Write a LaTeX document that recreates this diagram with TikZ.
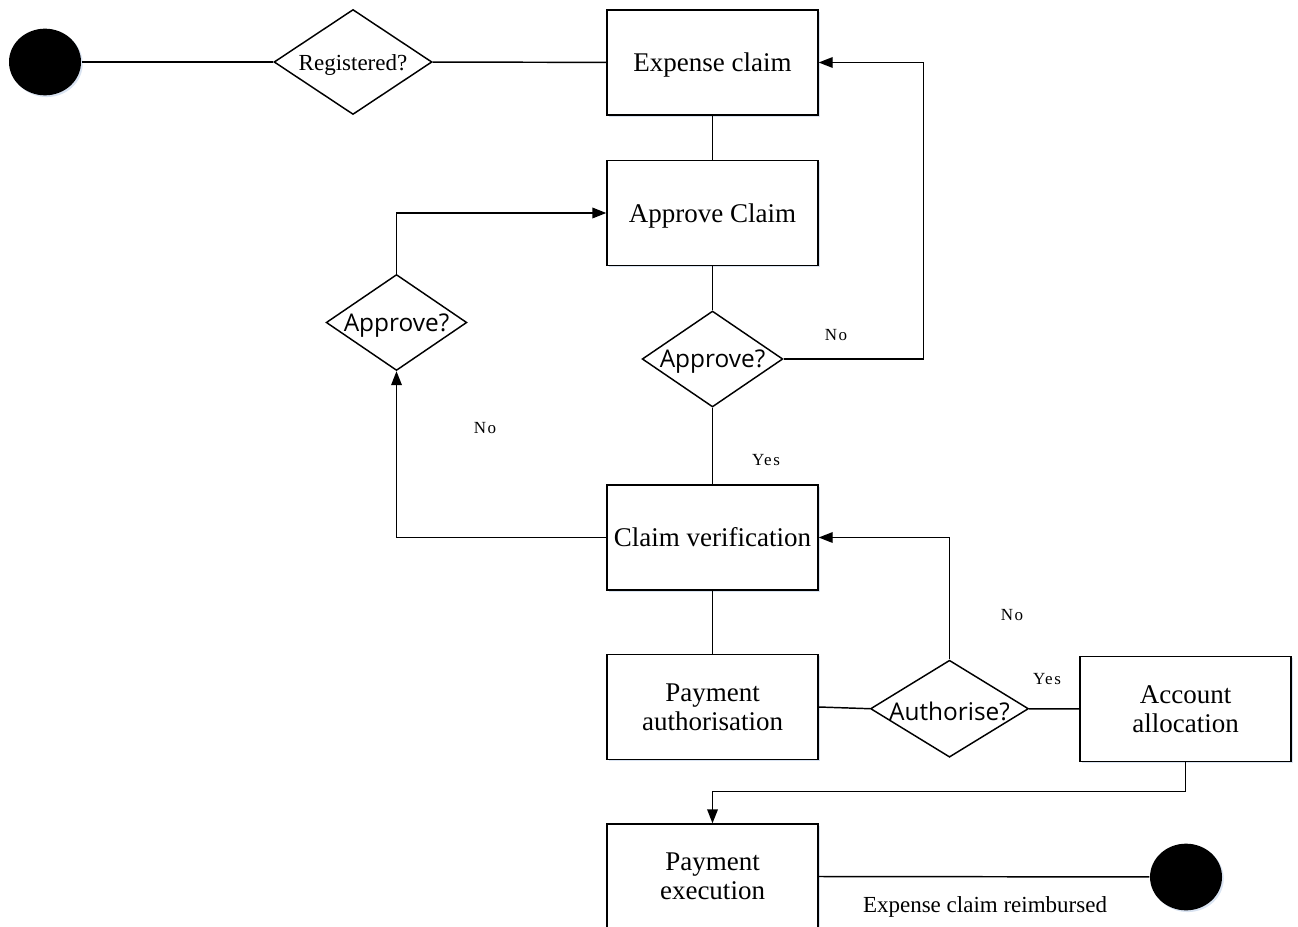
\documentclass[tikz,border=0pt]{standalone}
\usepackage{fontspec}
\setmainfont{Liberation Serif}
\newfontfamily\diafont{Open Sans}
\newfontfamily\lblfont{Liberation Serif}[LetterSpace=9]
\usetikzlibrary{shapes.geometric,arrows.meta,shadows}
\definecolor{glow}{RGB}{208,220,238}
% lower a one-line label a little without changing the box it reports
\newcommand{\nudge}[1]{\raisebox{-2.25pt}[\height][\depth]{#1}}
\begin{document}
\begin{tikzpicture}[x=0.75pt,y=-0.75pt,line width=1.1pt,
  box/.style={draw, fill=white, minimum width=158.25pt, minimum height=78.75pt,
    inner sep=2pt, align=center, font=\fontsize{20.25}{21.75}\selectfont,
    drop shadow={shadow xshift=1.3pt, shadow yshift=-1.3pt, fill=glow, opacity=0.8}},
  decision/.style={draw, fill=white, diamond, inner sep=0pt},
  serifq/.style={font=\fontsize{17.25}{20}\selectfont},
  sansq/.style={font=\diafont\fontsize{18.3}{20}\selectfont},
  term/.style={ellipse, fill=black, minimum width=54pt, minimum height=50pt, inner sep=0pt,
    drop shadow={shadow xshift=1.3pt, shadow yshift=-1.3pt, fill=glow, opacity=0.8}},
  lbl/.style={font=\lblfont\fontsize{12.75}{14}\selectfont},
  flow/.style={-{Triangle[length=10.5pt,width=8pt]}}
]
\useasboundingbox (0,0) rectangle (1298,927);

% states and decisions
\node[term] (start) at (45,62) {};
\node[decision, serifq, minimum width=118.5pt, minimum height=78.75pt] (reg) at (353,62) {\nudge{\makebox[0pt]{Registered?}}};
\node[box] (claim) at (712.5,62.5) {\nudge{Expense claim}};
\node[box] (approve) at (712.5,213) {\nudge{Approve Claim}};
\node[decision, sansq, minimum width=105.5pt, minimum height=72pt] (apr) at (712.5,359) {\nudge{\makebox[0pt]{Approve?}}};
\node[decision, sansq, minimum width=105.5pt, minimum height=72pt] (apl) at (396.5,322.5) {\nudge{\makebox[0pt]{Approve?}}};
\node[box] (verify) at (712.5,537.5) {Claim verification};
\node[box] (payauth) at (712.5,707) {Payment\\authorisation};
\node[decision, sansq, minimum width=118.5pt, minimum height=72.75pt] (auth) at (949.5,708.7) {\nudge{\makebox[0pt]{Authorise?}}};
\node[box] (alloc) at (1185.5,709) {Account\\allocation};
\node[box] (payexec) at (712.5,876.5) {Payment\\execution};
\node[term] (end) at (1186,877) {};

% connectors
\draw (start) -- (reg);
\draw (reg) -- (claim);
\draw (claim) -- (approve);
\draw (approve) -- (apr);
\draw[flow] (apr.east) -- ++(140,0) |- (claim.east);
\draw (apr) -- (verify);
\draw[flow] (verify.west) -| (apl.south);
\draw[flow] (apl.north) |- (approve.west);
\draw (verify) -- (payauth);
\draw (payauth.east) -- (auth.west);
\draw[flow] (auth.north) |- (verify.east);
\draw (auth) -- (alloc);
\draw[flow] (alloc.south) -- ++(0,29) -| (payexec.north);
\draw (payexec.east) -- (end);

% branch labels
\node[lbl] (lno1) at (836,335) {No};
\node[lbl] (lyes1) at (766,460) {Yes};
\node[lbl] (lno2) at (485,428) {No};
\node[lbl] (lno3) at (1012,615) {No};
\node[lbl] (lyes2) at (1047,679) {Yes};
\node[font=\fontsize{17.25}{20}\selectfont] (ldone) at (985,907) {Expense claim reimbursed};
\end{tikzpicture}
\end{document}
